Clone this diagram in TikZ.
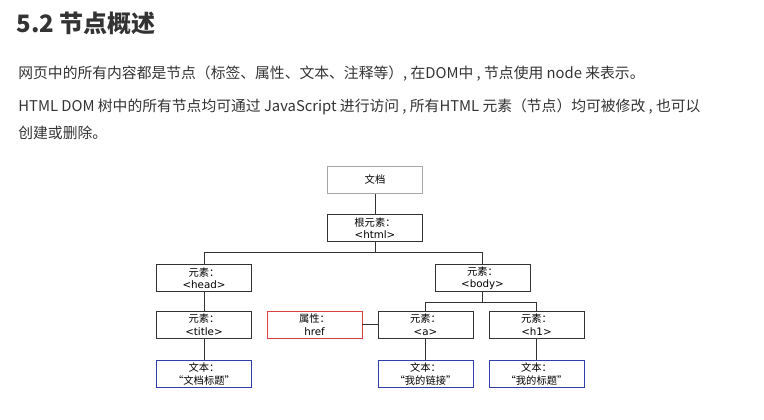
\documentclass[tikz,border=0pt]{standalone}
\usepackage{fontspec}
\setmainfont{Noto Sans CJK SC}
\newfontfamily\cjk{Noto Sans CJK SC}
\newfontfamily\lat{DejaVu Sans}
\usetikzlibrary{positioning}
\definecolor{ink}{HTML}{333333}
\definecolor{boxred}{HTML}{D94040}
\definecolor{boxblue}{HTML}{3040A8}
\def\lbl#1#2{{\cjk #1}\\{#2}}

\begin{document}
\begin{tikzpicture}[x=1pt,y=-1pt,line width=0.8pt,
	box/.style={rectangle,draw=ink,minimum width=95pt,minimum height=27pt,inner sep=0pt,align=center,font=\fontsize{10.3}{12.5}\selectfont,text=black},
	para/.style={anchor=west,inner sep=0pt,text=ink,font=\fontsize{14.8}{16}\selectfont}]
	\useasboundingbox (0,0) rectangle (764,420);
	% heading and text
	\node (head1) at (16,23) [anchor=west,inner sep=0pt,text=ink,font=\fontsize{24}{26}\bfseries] {5.2 节点概述};
	\node (p1) at (18,74) [para] {网页中的所有内容都是节点（标签、属性、文本、注释等）, 在DOM中 , 节点使用 node 来表示。};
	\node (p2) at (18,107) [para] {HTML DOM 树中的所有节点均可通过 JavaScript 进行访问 , 所有HTML 元素（节点）均可被修改 , 也可以};
	\node (p3) at (18,133) [para] {创建或删除。};
	% tree
	\node (doc) at (375,180) [box,draw=gray!70,line width=1.4pt] {文档};
	\node (html) at (375,228) [box] {\lbl{根元素：}{\lat<html>}};
	\node (head) at (204,278) [box] {\lbl{元素：}{\lat<head>}};
	\node (body) at (482.5,278) [box] {\lbl{元素：}{\lat<body>}};
	\node (title) at (204,324.5) [box] {\lbl{元素：}{\lat<title>}};
	\node (href) at (314.5,324.5) [box,draw=boxred] {\lbl{属性：}{\lat href}};
	\node (a) at (425.5,324.5) [box] {\lbl{元素：}{\lat<a>}};
	\node (h1) at (536.5,324.5) [box] {\lbl{元素：}{\lat<h1>}};
	\node (t1) at (204,374) [box,draw=boxblue] {\lbl{文本：}{\cjk “文档标题”}};
	\node (t2) at (425.5,374) [box,draw=boxblue] {\lbl{文本：}{\cjk “我的链接”}};
	\node (t3) at (536.5,374) [box,draw=boxblue] {\lbl{文本：}{\cjk “我的标题”}};
	\coordinate (hsplit) at (375,252);
	\coordinate (bsplit) at (482.5,302);
	\draw [ink] (doc) -- (html);
	\draw [ink] (html) -- (hsplit) -| (head);
	\draw [ink] (hsplit) -| (body);
	\draw [ink] (body) -- (bsplit) -| (a);
	\draw [ink] (bsplit) -| (h1);
	\draw [ink] (head) -- (title);
	\draw [ink] (title) -- (t1);
	\draw [ink] (href) -- (a);
	\draw [ink] (a) -- (t2);
	\draw [ink] (h1) -- (t3);
\end{tikzpicture}
\end{document}
